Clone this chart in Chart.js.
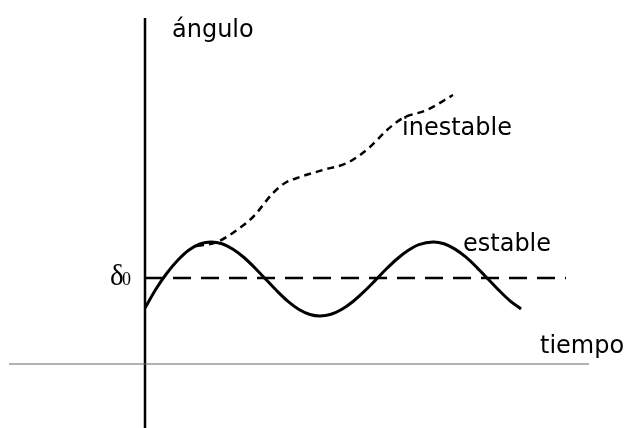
<!DOCTYPE html>
<html>
<head>
<meta charset="utf-8">
<script src="https://cdn.jsdelivr.net/npm/chart.js@4"></script>
<style>
  html, body { margin: 0; padding: 0; background: #fff; }
  #wrap { width: 627px; height: 428px; }
</style>
</head>
<body>
<div id="wrap"><canvas id="chart-1" width="627" height="428"></canvas></div>
<script>
// Eje x = tiempo, eje y = ángulo (origen en el cruce de los ejes)
const estableT = [0, 11, 22, 33, 44, 55, 66, 77, 88, 99, 110, 121, 132, 143, 154, 165, 175,
    186, 197, 208, 219, 230, 241, 252, 263, 274, 288, 299, 310, 321, 332, 343, 354, 365, 376];
const estableAng = [56, 75, 91, 104, 114, 120, 122, 120.2, 114.8, 106.5, 96, 84.5, 73, 62.6, 54.5, 49.5, 48,
    49.7, 54.7, 62.5, 72.4, 83.4, 94.7, 105, 113.4, 119.3, 122, 120.2, 114.9, 106.8, 96.4, 85, 73.6, 63.2, 55];

const inestableT = [52, 72, 92, 108, 128, 140, 155, 178, 202, 215, 225, 242, 258, 282, 308];
const inestableAng = [118, 122, 134, 147, 171, 181, 187, 194, 201, 209, 217, 234, 246, 254, 269];

const delta0 = 86;
const delta0T = [0, 421];

const ejeTiempo = [-136, 444];
const ejeAngulo = [-64, 346];

function pts(xs, ys) {
    return xs.map((x, i) => ({x: x, y: ys[i]}));
}

// Textos del dibujo
const etiquetas = {
    id: 'etiquetas',
    afterDraw(chart) {
        const ctx = chart.ctx;
        const sx = chart.scales.x, sy = chart.scales.y;
        ctx.save();
        ctx.fillStyle = '#000';
        ctx.textBaseline = 'alphabetic';
        ctx.font = '24px "DejaVu Sans", sans-serif';
        ctx.fillText('ángulo', sx.getPixelForValue(27), sy.getPixelForValue(327));
        ctx.fillText('inestable', sx.getPixelForValue(257), sy.getPixelForValue(229));
        ctx.fillText('estable', sx.getPixelForValue(318), sy.getPixelForValue(113));
        ctx.fillText('tiempo', sx.getPixelForValue(395), sy.getPixelForValue(11));
        ctx.font = '29px "Liberation Serif", serif';
        ctx.fillText('δ', sx.getPixelForValue(-35), sy.getPixelForValue(79));
        ctx.font = '18px "Liberation Serif", serif';
        ctx.fillText('0', sx.getPixelForValue(-23), sy.getPixelForValue(79));
        ctx.restore();
    }
};

new Chart(document.getElementById('chart-1').getContext('2d'), {
    type: 'line',
    data: {
        datasets: [
            {
                // eje horizontal
                data: pts(ejeTiempo, [0, 0]),
                borderColor: '#666',
                borderWidth: 1.2,
                pointRadius: 0
            },
            {
                // eje vertical
                data: [{x: 0, y: ejeAngulo[0]}, {x: 0, y: ejeAngulo[1]}],
                borderColor: '#000',
                borderWidth: 2.5,
                pointRadius: 0
            },
            {
                data: pts(delta0T, [delta0, delta0]),
                borderColor: '#000',
                borderWidth: 2.5,
                borderDash: [18, 10],
                pointRadius: 0
            },
            {
                label: 'inestable',
                data: pts(inestableT, inestableAng),
                borderColor: '#000',
                borderWidth: 2.5,
                borderDash: [7, 5],
                pointRadius: 0,
                cubicInterpolationMode: 'monotone'
            },
            {
                label: 'estable',
                data: pts(estableT, estableAng),
                borderColor: '#000',
                borderWidth: 3,
                pointRadius: 0,
                tension: 0.33
            }
        ]
    },
    options: {
        responsive: false,
        animation: false,
        layout: {padding: 0},
        plugins: {legend: {display: false}, tooltip: {enabled: false}},
        scales: {
            x: {type: 'linear', min: -145, max: 482, display: false},
            y: {type: 'linear', min: -64, max: 364, display: false}
        }
    },
    plugins: [etiquetas]
});
</script>
</body>
</html>
